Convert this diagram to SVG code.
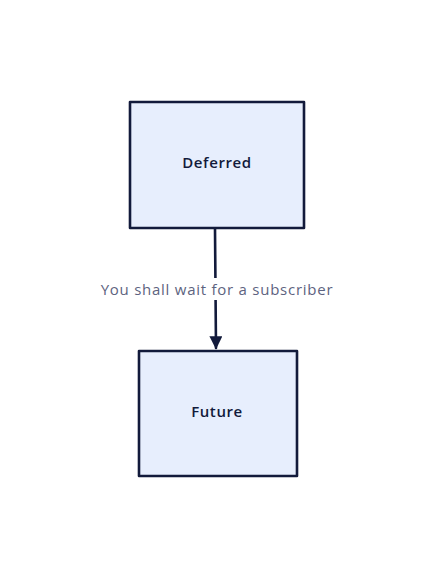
<svg xmlns="http://www.w3.org/2000/svg" width="434" height="579" viewBox="0 0 434 579">
<defs>
<style>
.box{fill:#e7eefd;stroke:#121a3b;stroke-width:2.6;stroke-linejoin:round}
.lbl{font-family:"Open Sans","DejaVu Sans",sans-serif;font-size:15px;font-weight:600;letter-spacing:0.6px;fill:#121a3b;text-anchor:middle;dominant-baseline:central}
.edge{fill:none;stroke:#121a3b;stroke-width:2.6;stroke-linecap:round}
.elbl{font-family:"Open Sans","DejaVu Sans",sans-serif;font-size:15px;letter-spacing:0.75px;fill:#5d6380;text-anchor:middle;dominant-baseline:central}
</style>
<marker id="arrow" viewBox="0 0 10 10" refX="9" refY="5" markerWidth="5" markerHeight="5" orient="auto" markerUnits="strokeWidth">
<path d="M0,0 L10,5 L0,10 Z" fill="#121a3b"/>
</marker>
</defs>
<rect width="434" height="579" fill="#ffffff"/>
<g id="connectors">
<path class="edge" d="M215,229 L216,348" marker-end="url(#arrow)"/>
<rect x="98" y="278" width="238" height="22" fill="#ffffff"/>
<text class="elbl" x="217" y="289">You shall wait for a subscriber</text>
</g>
<g id="node-deferred">
<rect class="box" x="130" y="102" width="174" height="126"/>
<text class="lbl" x="217" y="162">Deferred</text>
</g>
<g id="node-future">
<rect class="box" x="139" y="351" width="158" height="125"/>
<text class="lbl" x="217" y="411">Future</text>
</g>
</svg>
